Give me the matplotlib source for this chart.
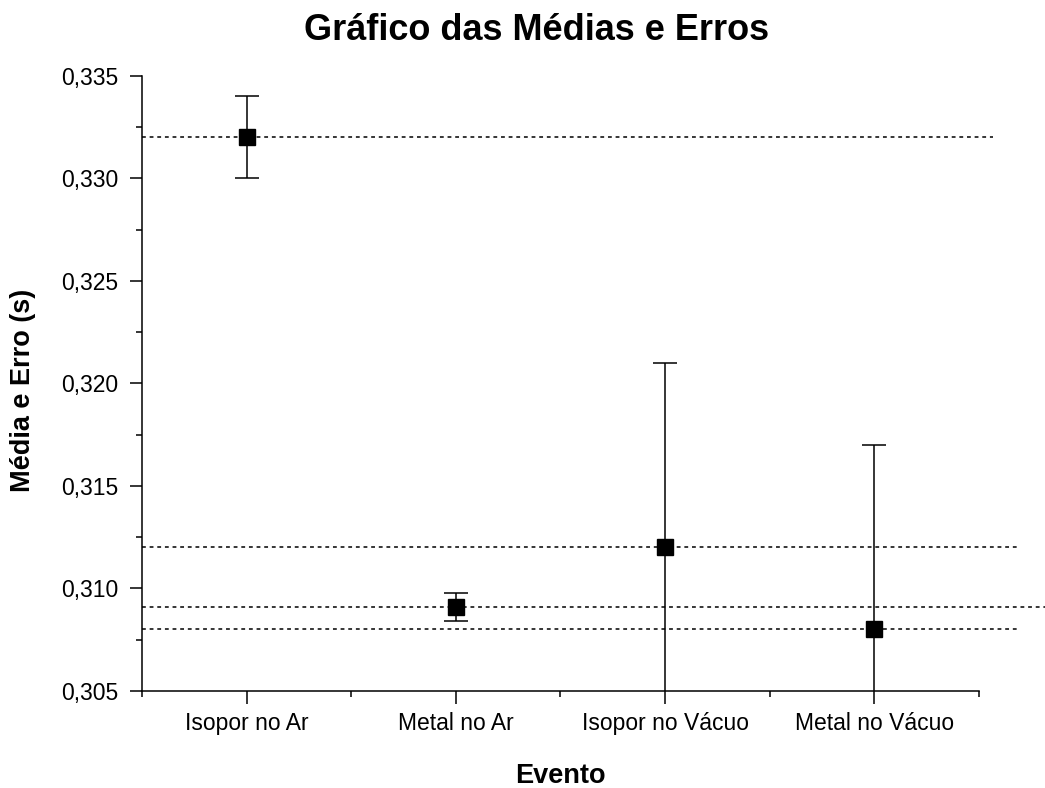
import matplotlib.pyplot as plt
from matplotlib.ticker import FuncFormatter, MultipleLocator, FixedLocator

eventos = ["Isopor no Ar", "Metal no Ar", "Isopor no Vácuo", "Metal no Vácuo"]
medias = [0.332, 0.3091, 0.312, 0.308]
erros = [0.002, 0.0007, 0.009, 0.009]

# dotted reference lines (value, right end in data x)
ref_vals = [0.332, 0.312, 0.3091, 0.308]
ref_ends = [4.567, 4.686, 4.82, 4.696]

plt.rcParams['font.family'] = ['Liberation Sans', 'DejaVu Sans']

fig = plt.figure(figsize=(10.45, 7.88), dpi=100)
ax = fig.add_axes([0.1359, 0.1231, 0.8009, 0.7805])

x = list(range(1, len(eventos) + 1))

for v, xe in zip(ref_vals, ref_ends):
    ax.plot([0.5, xe], [v, v], color='black', lw=1.1,
            linestyle=(0, (2.5, 2.5)), clip_on=False, zorder=1)

ax.errorbar(x, medias, yerr=erros, fmt='s', color='black', ms=11.5,
            ecolor='black', elinewidth=1.1, capsize=8.4, capthick=1.1, zorder=3)

ax.set_xlim(0.5, 4.5)
ax.set_ylim(0.305, 0.335)

ax.spines['top'].set_visible(False)
ax.spines['right'].set_visible(False)
ax.spines['left'].set_linewidth(1.1)
ax.spines['bottom'].set_linewidth(1.1)

ax.set_xticks(x)
ax.set_xticklabels(eventos)
ax.xaxis.set_minor_locator(FixedLocator([0.5, 1.5, 2.5, 3.5, 4.5]))
ax.yaxis.set_major_locator(MultipleLocator(0.005))
ax.yaxis.set_minor_locator(MultipleLocator(0.0025))
ax.yaxis.set_major_formatter(FuncFormatter(lambda v, p: f"{v:.3f}".replace('.', ',')))

ax.tick_params(which='major', direction='out', length=9, width=1.1,
               labelsize=16.5, pad=8)
ax.tick_params(axis='x', which='major', pad=6)
ax.tick_params(which='minor', direction='out', length=4.5, width=1.1)

ax.set_xlabel("Evento", fontsize=19.5, fontweight='bold', labelpad=20)
ax.set_ylabel("Média e Erro (s)", fontsize=19.5, fontweight='bold')
ax.yaxis.set_label_coords(-0.1266, 0.489)

fig.text(537 / 1045, 1 - 31 / 788, "Gráfico das Médias e Erros",
         ha='center', va='center', fontsize=26, fontweight='bold')

fig.savefig("out.png", dpi=100)
